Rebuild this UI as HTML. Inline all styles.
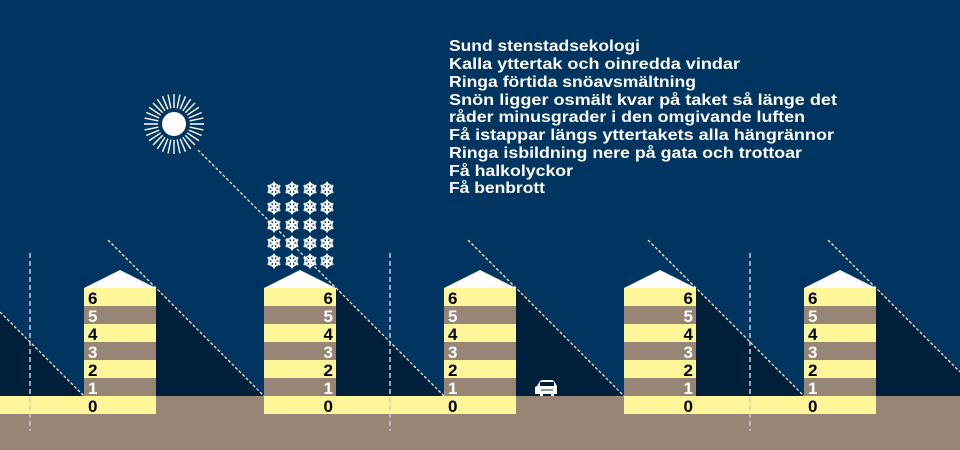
<!DOCTYPE html>
<html><head><meta charset="utf-8"><style>
html,body{margin:0;padding:0;background:#003562;}
svg{display:block}
text{font-family:"Liberation Sans",sans-serif;}
</style></head><body>
<svg width="960" height="450" viewBox="0 0 960 450" xmlns="http://www.w3.org/2000/svg">
<rect width="960" height="450" fill="#003562"/>
<g fill="#001f3a">
<polygon points="0,312 84,396 0,396"/>
<polygon points="156,288 264,396 156,396"/>
<polygon points="336,288 444,396 336,396"/>
<polygon points="516,288 624,396 516,396"/>
<polygon points="696,288 804,396 696,396"/>
<polygon points="876,288 960,372 960,396 876,396"/>
</g>
<rect x="0" y="396" width="960" height="54" fill="#978676"/>
<g fill="#fff699">
<rect x="0" y="396" width="156" height="18"/>
<rect x="264" y="396" width="252" height="18"/>
<rect x="624" y="396" width="252" height="18"/>
</g>
<defs>
<g id="bld">
<polygon points="0,288 36,270 72,288" fill="#fff"/>
<rect x="0" y="288" width="72" height="18" fill="#fff699"/>
<rect x="0" y="306" width="72" height="18" fill="#978676"/>
<rect x="0" y="324" width="72" height="18" fill="#fff699"/>
<rect x="0" y="342" width="72" height="18" fill="#978676"/>
<rect x="0" y="360" width="72" height="18" fill="#fff699"/>
<rect x="0" y="378" width="72" height="18" fill="#978676"/>
</g>
</defs>
<use href="#bld" x="84"/>
<use href="#bld" x="264"/>
<use href="#bld" x="444"/>
<use href="#bld" x="624"/>
<use href="#bld" x="804"/>
<g font-size="17" font-weight="bold">
<g text-anchor="start">
<g transform="translate(88,0)"><text y="304">6</text><text y="322" fill="#fff">5</text><text y="340">4</text><text y="358" fill="#fff">3</text><text y="376">2</text><text y="394" fill="#fff">1</text><text y="412">0</text></g>
<g transform="translate(448,0)"><text y="304">6</text><text y="322" fill="#fff">5</text><text y="340">4</text><text y="358" fill="#fff">3</text><text y="376">2</text><text y="394" fill="#fff">1</text><text y="412">0</text></g>
<g transform="translate(808,0)"><text y="304">6</text><text y="322" fill="#fff">5</text><text y="340">4</text><text y="358" fill="#fff">3</text><text y="376">2</text><text y="394" fill="#fff">1</text><text y="412">0</text></g>
</g>
<g text-anchor="end">
<g transform="translate(333,0)"><text y="304">6</text><text y="322" fill="#fff">5</text><text y="340">4</text><text y="358" fill="#fff">3</text><text y="376">2</text><text y="394" fill="#fff">1</text><text y="412">0</text></g>
<g transform="translate(693,0)"><text y="304">6</text><text y="322" fill="#fff">5</text><text y="340">4</text><text y="358" fill="#fff">3</text><text y="376">2</text><text y="394" fill="#fff">1</text><text y="412">0</text></g>
</g>
</g>
<g stroke="#fff" stroke-width="1.2" stroke-dasharray="3,2" fill="none">
<line x1="0" y1="312" x2="84" y2="396"/>
<line x1="108" y1="240" x2="264" y2="396"/>
<line x1="198" y1="150" x2="444" y2="396"/>
<line x1="468" y1="240" x2="624" y2="396"/>
<line x1="648" y1="240" x2="804" y2="396"/>
<line x1="828" y1="240" x2="960" y2="372"/>
</g>
<g stroke="#c8c8d0" stroke-width="1.5" stroke-dasharray="5,3">
<line x1="30" y1="253" x2="30" y2="431"/>
<line x1="390" y1="253" x2="390" y2="431"/>
<line x1="750" y1="253" x2="750" y2="431"/>
</g>
<g transform="translate(174,124)">
<g stroke="#fff" stroke-width="1.4">
<line x1="0" y1="-30" x2="0" y2="30"/>
<line x1="-30" y1="0" x2="30" y2="0"/>
<line x1="-21" y1="-21" x2="21" y2="21"/>
<line x1="-21" y1="21" x2="21" y2="-21"/>
<line x1="-11.5" y1="-27.7" x2="11.5" y2="27.7"/>
<line x1="11.5" y1="-27.7" x2="-11.5" y2="27.7"/>
<line x1="-27.7" y1="-11.5" x2="27.7" y2="11.5"/>
<line x1="-27.7" y1="11.5" x2="27.7" y2="-11.5"/>
<line x1="-5.9" y1="-29.4" x2="5.9" y2="29.4"/>
<line x1="5.9" y1="-29.4" x2="-5.9" y2="29.4"/>
<line x1="-16.7" y1="-24.9" x2="16.7" y2="24.9"/>
<line x1="16.7" y1="-24.9" x2="-16.7" y2="24.9"/>
<line x1="-24.9" y1="-16.7" x2="24.9" y2="16.7"/>
<line x1="-24.9" y1="16.7" x2="24.9" y2="-16.7"/>
<line x1="-29.4" y1="-5.9" x2="29.4" y2="5.9"/>
<line x1="-29.4" y1="5.9" x2="29.4" y2="-5.9"/>
</g>
<circle r="16" fill="#003562"/>
<circle r="12" fill="#fff"/>
</g>
<g fill="#fff" stroke="#fff" stroke-width="0.7" font-size="19" text-anchor="middle">
<text x="274" y="196" font-family="DejaVu Sans, sans-serif">❄</text><text x="292" y="196" font-family="DejaVu Sans, sans-serif">❄</text><text x="310" y="196" font-family="DejaVu Sans, sans-serif">❄</text><text x="327" y="196" font-family="DejaVu Sans, sans-serif">❄</text>
<text x="274" y="214" font-family="DejaVu Sans, sans-serif">❄</text><text x="292" y="214" font-family="DejaVu Sans, sans-serif">❄</text><text x="310" y="214" font-family="DejaVu Sans, sans-serif">❄</text><text x="327" y="214" font-family="DejaVu Sans, sans-serif">❄</text>
<text x="274" y="232" font-family="DejaVu Sans, sans-serif">❄</text><text x="292" y="232" font-family="DejaVu Sans, sans-serif">❄</text><text x="310" y="232" font-family="DejaVu Sans, sans-serif">❄</text><text x="327" y="232" font-family="DejaVu Sans, sans-serif">❄</text>
<text x="274" y="250" font-family="DejaVu Sans, sans-serif">❄</text><text x="292" y="250" font-family="DejaVu Sans, sans-serif">❄</text><text x="310" y="250" font-family="DejaVu Sans, sans-serif">❄</text><text x="327" y="250" font-family="DejaVu Sans, sans-serif">❄</text>
<text x="274" y="268" font-family="DejaVu Sans, sans-serif">❄</text><text x="292" y="268" font-family="DejaVu Sans, sans-serif">❄</text><text x="310" y="268" font-family="DejaVu Sans, sans-serif">❄</text><text x="327" y="268" font-family="DejaVu Sans, sans-serif">❄</text>
</g>
<g fill="#fff">
<path d="M537,386 L540,381 Q541,380 543,380 L551,380 Q553,380 554,381 L557,386 L557,394 L554,394 L554,396 L551,396 L551,394 L543,394 L543,396 L540,396 L540,394 L535,394 L535,387 Z"/>
<rect x="540" y="382" width="14" height="4" fill="#001f3a"/>
<rect x="541" y="389" width="12" height="2" fill="#8899aa"/>
</g>
<g fill="#fff" font-size="15.5" font-weight="bold">
<text x="449" y="51" textLength="191" lengthAdjust="spacingAndGlyphs">Sund stenstadsekologi</text>
<text x="449" y="69" textLength="291" lengthAdjust="spacingAndGlyphs">Kalla yttertak och oinredda vindar</text>
<text x="449" y="87" textLength="247" lengthAdjust="spacingAndGlyphs">Ringa förtida snöavsmältning</text>
<text x="449" y="105" textLength="388" lengthAdjust="spacingAndGlyphs">Snön ligger osmält kvar på taket så länge det</text>
<text x="449" y="122" textLength="356" lengthAdjust="spacingAndGlyphs">råder minusgrader i den omgivande luften</text>
<text x="449" y="140" textLength="385" lengthAdjust="spacingAndGlyphs">Få istappar längs yttertakets alla hängrännor</text>
<text x="449" y="158" textLength="353" lengthAdjust="spacingAndGlyphs">Ringa isbildning nere på gata och trottoar</text>
<text x="449" y="176" textLength="124" lengthAdjust="spacingAndGlyphs">Få halkolyckor</text>
<text x="449" y="193" textLength="96" lengthAdjust="spacingAndGlyphs">Få benbrott</text>
</g>
</svg>
</body></html>
